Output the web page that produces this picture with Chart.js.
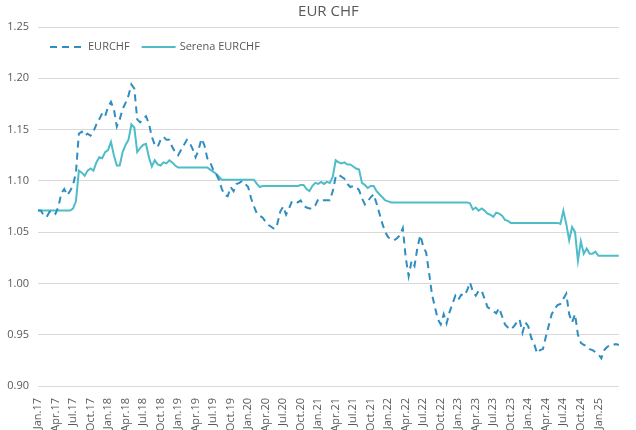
<!DOCTYPE html>
<html>
<head>
<meta charset="utf-8">
<title>EUR CHF</title>
<script src="https://cdn.jsdelivr.net/npm/chart.js@4.4.1/dist/chart.umd.min.js"></script>
<style>
  html, body { margin: 0; padding: 0; background: #fff; }
  #wrap { width: 636px; height: 430px; }
</style>
</head>
<body>
<div id="wrap"><canvas id="fxChart"></canvas></div>
<script>
// half-month observations, Jan.17 -> Apr.25
const monthNames = ['Jan', 'Feb', 'Mar', 'Apr', 'May', 'Jun', 'Jul', 'Aug', 'Sep', 'Oct', 'Nov', 'Dec'];
const firstYear = 17;
const monthCount = 100;
const lastTickLabel = 'Jan.25';

const eurchf = [
    1.071, 1.071, 1.066, 1.065, 1.070, 1.071, 1.068, 1.075, 1.088, 1.092,
    1.086, 1.090, 1.096, 1.108, 1.146, 1.148, 1.144, 1.146, 1.144, 1.148,
    1.155, 1.160, 1.166, 1.163, 1.172, 1.177, 1.170, 1.153, 1.160, 1.170,
    1.176, 1.183, 1.194, 1.190, 1.160, 1.157, 1.160, 1.163, 1.156, 1.143,
    1.135, 1.133, 1.140, 1.143, 1.140, 1.140, 1.133, 1.128, 1.125, 1.130,
    1.135, 1.140, 1.137, 1.131, 1.123, 1.130, 1.141, 1.135, 1.122, 1.118,
    1.111, 1.107, 1.101, 1.092, 1.086, 1.085, 1.094, 1.090, 1.097, 1.098,
    1.100, 1.097, 1.094, 1.083, 1.075, 1.068, 1.066, 1.064, 1.060, 1.057,
    1.055, 1.053, 1.058, 1.070, 1.075, 1.067, 1.073, 1.080, 1.080, 1.079,
    1.081, 1.076, 1.074, 1.073, 1.073, 1.076, 1.082, 1.081, 1.081, 1.081,
    1.081, 1.090, 1.104, 1.106, 1.104, 1.102, 1.097, 1.094, 1.095, 1.094,
    1.091, 1.083, 1.077, 1.080, 1.084, 1.087, 1.078, 1.068, 1.058, 1.050,
    1.045, 1.043, 1.042, 1.044, 1.047, 1.054, 1.025, 1.007, 1.022, 1.017,
    1.035, 1.047, 1.036, 1.030, 1.010, 0.989, 0.977, 0.965, 0.960, 0.970,
    0.961, 0.972, 0.980, 0.988, 0.984, 0.989, 0.988, 0.993, 1.001, 0.992,
    0.988, 0.993, 0.993, 0.985, 0.977, 0.975, 0.973, 0.971, 0.976, 0.968,
    0.960, 0.957, 0.955, 0.958, 0.962, 0.965, 0.952, 0.962, 0.958, 0.947,
    0.941, 0.932, 0.935, 0.936, 0.948, 0.959, 0.970, 0.975, 0.979, 0.980,
    0.985, 0.990, 0.970, 0.962, 0.970, 0.950, 0.942, 0.940, 0.939, 0.936,
    0.935, 0.933, 0.931, 0.927, 0.935, 0.938, 0.940, 0.940, 0.941, 0.940
];

const serena = [
    1.071, 1.071, 1.071, 1.071, 1.071, 1.071, 1.071, 1.071, 1.071, 1.071,
    1.071, 1.071, 1.073, 1.080, 1.110, 1.108, 1.105, 1.110, 1.112, 1.110,
    1.118, 1.123, 1.122, 1.128, 1.130, 1.138, 1.125, 1.115, 1.115, 1.128,
    1.135, 1.140, 1.155, 1.152, 1.128, 1.132, 1.135, 1.136, 1.123, 1.114,
    1.120, 1.116, 1.115, 1.118, 1.117, 1.120, 1.118, 1.115, 1.113, 1.113,
    1.113, 1.113, 1.113, 1.113, 1.113, 1.113, 1.113, 1.113, 1.113, 1.111,
    1.109, 1.107, 1.104, 1.101, 1.101, 1.101, 1.101, 1.101, 1.101, 1.101,
    1.101, 1.101, 1.101, 1.101, 1.101, 1.097, 1.094, 1.095, 1.095, 1.095,
    1.095, 1.095, 1.095, 1.095, 1.095, 1.095, 1.095, 1.095, 1.095, 1.095,
    1.096, 1.096, 1.092, 1.090, 1.095, 1.098, 1.097, 1.099, 1.097, 1.099,
    1.098, 1.104, 1.120, 1.118, 1.117, 1.118, 1.116, 1.116, 1.114, 1.112,
    1.111, 1.098, 1.096, 1.093, 1.095, 1.095, 1.090, 1.087, 1.084, 1.081,
    1.080, 1.079, 1.079, 1.079, 1.079, 1.079, 1.079, 1.079, 1.079, 1.079,
    1.079, 1.079, 1.079, 1.079, 1.079, 1.079, 1.079, 1.079, 1.079, 1.079,
    1.079, 1.079, 1.079, 1.079, 1.079, 1.079, 1.079, 1.079, 1.078, 1.072,
    1.074, 1.071, 1.073, 1.071, 1.068, 1.067, 1.065, 1.069, 1.068, 1.066,
    1.062, 1.061, 1.059, 1.059, 1.059, 1.059, 1.059, 1.059, 1.059, 1.059,
    1.059, 1.059, 1.059, 1.059, 1.059, 1.059, 1.059, 1.059, 1.059, 1.058,
    1.071, 1.058, 1.042, 1.055, 1.050, 1.022, 1.041, 1.029, 1.034, 1.029,
    1.029, 1.031, 1.027, 1.027, 1.027, 1.027, 1.027, 1.027, 1.027, 1.027
];

const seriesNames = ['EURCHF', 'Serena EURCHF'];
const yTicks = [0.90, 0.95, 1.00, 1.05, 1.10, 1.15, 1.20, 1.25];

// one label per half month, only quarter starts are shown on the axis
const periods = [];
for (let m = 0; m < monthCount; m++) {
    const lbl = monthNames[m % 12] + '.' + (firstYear + Math.floor(m / 12));
    periods.push(lbl, lbl);
}
const lastTickIndex = periods.indexOf(lastTickLabel);

const FONT = '"Open Sans", "DejaVu Sans", sans-serif';
const GREY = '#595959';

// legend sits inside the plot, top-left
const innerLegend = {
    id: 'innerLegend',
    afterDraw(chart) {
        const ctx = chart.ctx;
        const y = chart.chartArea.top + 20;
        let x = chart.chartArea.left + 12;
        ctx.save();
        ctx.font = '11px ' + FONT;
        ctx.textBaseline = 'middle';
        chart.data.datasets.forEach(ds => {
            ctx.strokeStyle = ds.borderColor;
            ctx.lineWidth = ds.borderWidth;
            ctx.setLineDash(ds.borderDash || []);
            ctx.beginPath();
            ctx.moveTo(x, y);
            ctx.lineTo(x + 34, y);
            ctx.stroke();
            ctx.setLineDash([]);
            ctx.fillStyle = GREY;
            ctx.fillText(ds.label, x + 38, y);
            x += 38 + ctx.measureText(ds.label).width + 12;
        });
        ctx.restore();
    }
};

new Chart(document.getElementById('fxChart'), {
    type: 'line',
    data: {
        labels: periods,
        datasets: [
            {
                label: seriesNames[0],
                data: eurchf,
                borderColor: '#2E8DC1',
                borderWidth: 2,
                borderDash: [7, 5],
                pointRadius: 0,
                tension: 0
            },
            {
                label: seriesNames[1],
                data: serena,
                borderColor: '#4FBDC7',
                borderWidth: 2,
                pointRadius: 0,
                tension: 0
            }
        ]
    },
    options: {
        responsive: true,
        maintainAspectRatio: false,
        animation: false,
        devicePixelRatio: 1,
        layout: { padding: { left: 0, right: 0, top: 0, bottom: 0 } },
        plugins: {
            legend: { display: false },
            tooltip: { enabled: false },
            title: {
                display: true,
                fullSize: false,
                text: 'EUR CHF',
                color: GREY,
                font: { family: FONT, size: 15, weight: 'normal' },
                padding: { top: 3, bottom: 6 }
            }
        },
        scales: {
            x: {
                offset: false,
                grid: { display: false },
                border: { display: false },
                ticks: {
                    autoSkip: false,
                    minRotation: 90,
                    maxRotation: 90,
                    padding: 4,
                    color: GREY,
                    font: { family: FONT, size: 11 },
                    callback(value, index) {
                        return index % 6 === 0 && index <= lastTickIndex ? this.getLabelForValue(value) : '';
                    }
                },
                afterFit(scale) { scale.height = 44; }
            },
            y: {
                min: yTicks[0],
                max: yTicks[yTicks.length - 1],
                grid: { color: '#d9d9d9', lineWidth: 1, drawTicks: false },
                border: { display: false },
                afterBuildTicks(scale) { scale.ticks = yTicks.map(v => ({ value: v })); },
                ticks: {
                    padding: 9,
                    color: GREY,
                    font: { family: FONT, size: 11 },
                    callback: v => v.toFixed(2)
                },
                afterFit(scale) { scale.width = 38; }
            }
        }
    },
    plugins: [innerLegend]
});
</script>
</body>
</html>
